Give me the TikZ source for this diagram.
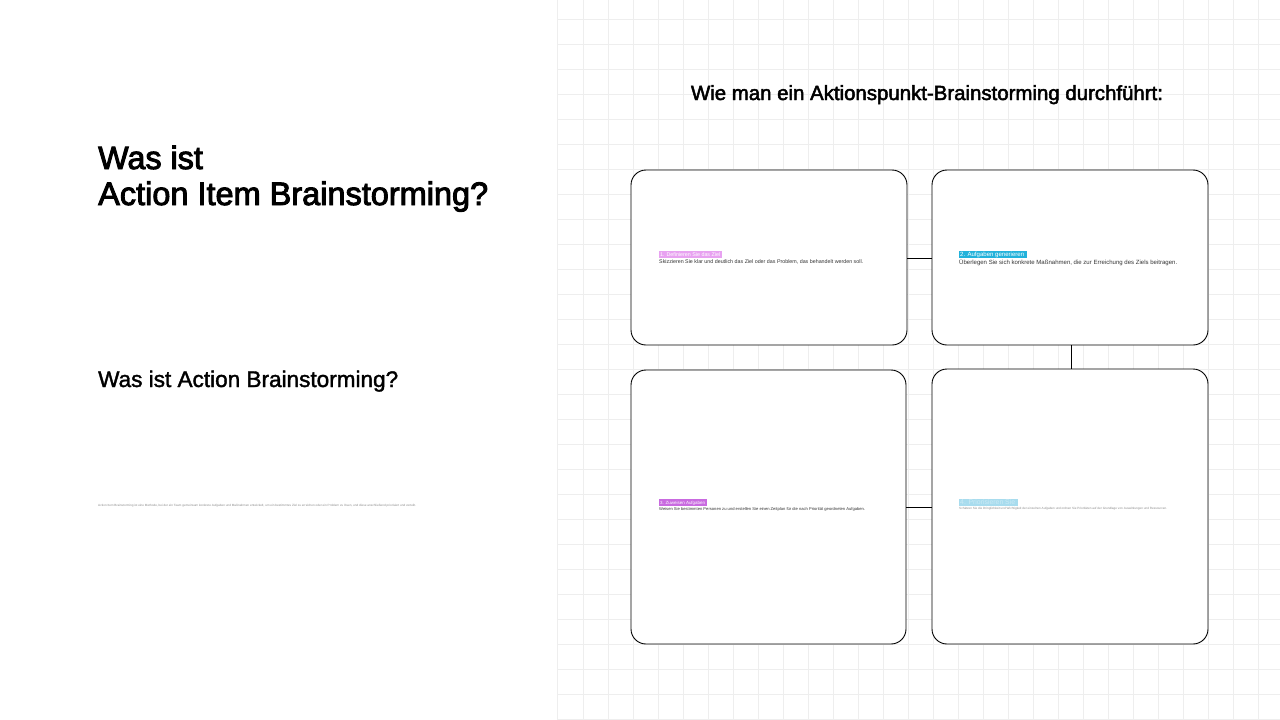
\documentclass[tikz,border=0pt]{standalone}
\usepackage{fontspec}
\usepackage{graphicx}
\setmainfont{Liberation Sans}
\definecolor{gridc}{HTML}{EEEEEE}
\definecolor{lab1}{HTML}{E8A2F1}
\definecolor{lab2}{HTML}{22B2DB}
\definecolor{lab3}{HTML}{C96AE0}
\definecolor{lab4}{HTML}{A8DCEE}
\definecolor{bodyc}{HTML}{333333}
\newcommand{\heavy}[2]{\special{pdf:literal direct 2 Tr #1 w}#2\special{pdf:literal direct 0 Tr 1 w}}
\tikzset{
  card/.style={draw=black, line width=0.9pt, rounded corners=15pt, fill=white},
  link/.style={draw=black, line width=0.9pt},
  tag/.style={anchor=south west, inner sep=0pt, text=white, font=\fontsize{5}{5}\selectfont},
  bodytxt/.style={anchor=north west, inner sep=0pt, text=bodyc, font=\fontsize{5}{6}\selectfont},
}
\newcommand{\tagbox}[4]{\fboxsep=0pt\colorbox{#1}{\makebox[#2pt][l]{\hspace{1pt}\resizebox{#3pt}{!}{#4}}\rule[-1.4pt]{0pt}{7pt}}}
\begin{document}
\begin{tikzpicture}[x=1pt,y=-1pt]
\useasboundingbox (0,0) rectangle (1280,720);
\fill[white] (0,0) rectangle (1280,720);
% grid on right panel
\begin{scope}
\clip (557,0) rectangle (1280,720);
\foreach \gx in {583,608,...,1283} {\draw[gridc, line width=1pt] (\gx,0) -- (\gx,720);}
\foreach \gy in {19,44,...,720} {\draw[gridc, line width=1pt] (557,\gy) -- (1280,\gy);}
\end{scope}
\draw[gridc, line width=0.8pt] (557,0) -- (557,720);

% left texts
\node[anchor=base west, inner sep=0pt, font=\fontsize{31}{35}\selectfont] (t1) at (98,169) {\resizebox{!}{23.4pt}{\heavy{0.9}{Was ist}}};
\node[anchor=base west, inner sep=0pt, font=\fontsize{31}{35}\selectfont] (t2) at (98,205) {\resizebox{390pt}{!}{\heavy{0.9}{Action Item Brainstorming?}}};
\node[anchor=base west, inner sep=0pt, font=\fontsize{21}{25}\selectfont] (t3) at (98,387) {\resizebox{300pt}{!}{\heavy{0.35}{Was ist Action Brainstorming?}}};
\node[anchor=west, inner sep=0pt, text=black!45] (t4) at (98,506) {\resizebox{318pt}{2.2pt}{Action Item Brainstorming ist eine Methode, bei der ein Team gemeinsam konkrete Aufgaben und Maßnahmen entwickelt, um ein bestimmtes Ziel zu erreichen oder ein Problem zu lösen, und diese anschließend priorisiert und verteilt.}};

% right title
\node[anchor=base, inner sep=0pt, font=\fontsize{19}{22}\selectfont] (rt) at (927,100) {\resizebox{472pt}{!}{\heavy{0.45}{Wie man ein Aktionspunkt-Brainstorming durchführt:}}};

% cards
\draw[card] (631,170) rectangle (907,345);
\draw[card] (932,170) rectangle (1208,345);
\draw[card] (631,370) rectangle (906,644);
\draw[card] (932,369) rectangle (1208,644);
\coordinate (c1r) at (907,258);
\coordinate (c2l) at (932,258);
\coordinate (c2b) at (1071,345);
\coordinate (c4t) at (1071,369);
\coordinate (c3r) at (906,507);
\coordinate (c4l) at (932,507);
\draw[link] (c1r) -- (c2l);
\draw[link] (c2b) -- (c4t);
\draw[link] (c3r) -- (c4l);

% card texts
\node[tag] (l1) at (659,258) {\tagbox{lab1}{63}{60}{1. Definieren Sie das Ziel}};
\node[bodytxt] (b1) at (659,259) {\resizebox{204pt}{!}{Skizzieren Sie klar und deutlich das Ziel oder das Problem, das behandelt werden soll.}};
\node[tag] (l2) at (959,258) {\tagbox{lab2}{68}{64}{2. Aufgaben generieren}};
\node[bodytxt] (b2) at (959,259.5) {\resizebox{218pt}{!}{Überlegen Sie sich konkrete Maßnahmen, die zur Erreichung des Ziels beitragen.}};
\node[tag] (l3) at (659,506) {\tagbox{lab3}{48}{45}{3. Zuweisen Aufgaben}};
\node[bodytxt] (b3) at (659,507.5) {\resizebox{206pt}{!}{Weisen Sie bestimmten Personen zu und erstellen Sie einen Zeitplan für die nach Priorität geordneten Aufgaben.}};
\node[tag] (l4) at (959,506) {\tagbox{lab4}{59}{55}{\color{lab4!60!white}4. Priorisieren Sie}};
\node[bodytxt, text=black!45] (b4) at (959,507.5) {\resizebox{208pt}{!}{Schätzen Sie die Dringlichkeit und Wichtigkeit der einzelnen Aufgaben und ordnen Sie Prioritäten auf der Grundlage von Auswirkungen und Ressourcen.}};
\end{tikzpicture}
\end{document}
